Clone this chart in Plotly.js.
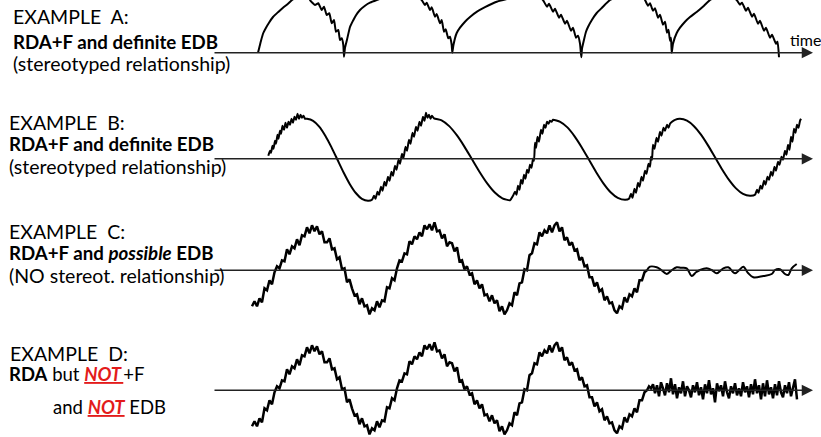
<!DOCTYPE html>
<html><head><meta charset="utf-8">
<script src="https://cdn.plot.ly/plotly-3.0.1.min.js"></script>
<style>html,body{margin:0;padding:0;background:#fff}#chart{width:821px;height:437px}</style>
</head><body><div id="chart"></div>
<script>
// ---------- data (time in px-like units, amplitude above each baseline) ----------
// Example A: rising phase then stepwise (fast activity) descending phase
const aTime = [258,259.5,261,263.3,266,269,273,278,283,288,292,297,302,305,307.5,309,310,315,318.3,321.7,324,326.7,329.3,331.7,334,336,338.3,340,341.7,343.3,344,
345,347,350,353,356,360,365,370,376.7,385,395,405,412,416,419,421.7,425,426.7,430,431.7,435,436.7,440,441.7,444,445.7,448.3,450,451.7,452.3,
453.5,456.7,460,465,470,477,485,496.7,503,512,522,532,537,540,543,547,549,553,555,559,561,565,567,571,573,576,578,580,581.3,
582,584,586,588,592,596.7,602,610,618,628,636,640,643,645,648,650,653,655,658,660,663,665,667,668.5,670,671,671.7,
673,676.7,680,685,690,697,704,710,716,724,729,733,736.7,740,742,746,748,752,754,758,760,764,766,770,772,776,777.5,779];
const aAmp = [0,6,12,19.7,25,30,35.7,40.5,45,49,52.7,56,58,61,57,59,52.7,47.7,49.4,42.7,46,37.7,39.4,29.4,32.7,21,22.7,12.7,14.4,7.7,-4,
5,13,25.7,32,37.5,42.7,47,50,52.7,55.5,57.5,58.5,58,60,55,52.7,47.7,50,42.7,45.4,36,38.7,29.4,32.7,21,23.4,14.4,16,7.7,0,
8,19.7,25,31,35.7,41,45.5,51,52.7,55,57,58,60,55.5,52.7,46,49,41,44,35,38,29,32,22,25,15,17,9,-4.5,
4,13,21,25.7,33,39.7,45,52.7,56,58,58.5,60,55.5,52.7,47,49.5,42,44.5,35,38,28,31,20,23,12,15,0,
9,19.7,25,31,35.7,41,47,52.7,56,58,60,55.5,52.7,48,50,42,45,36,39,29,32,22,25,15,18,9,11,-4.5];

// Example B: noisy rising phases, smooth falling phases
const bTime = [268.3,270,271,272.5,273.5,275,276,277.5,278.5,280,281,282.5,284,285.5,287,288.5,290,291.5,293,294.5,296,297.5,299,300.5,302,303.5,305,
307,313.1,319.2,325.3,331.4,337.5,343.6,349.7,355.8,361.9,368,
372,374,375.5,377.5,379,381,382.5,384.5,386,388,389.5,391.5,393,395,396.5,398.5,400,402,403.5,405.5,407,409,410.5,412.5,414,416,417.5,419.5,421,423,424.5,426,427.5,429,430.5,432,
434,441.6,449.2,456.8,464.4,472,479.6,487.2,494.8,502.4,510,
513,515,516.5,518,519.5,521,522.5,524,525.5,527,528.5,530,531.5,533,534,535,536,537.5,539,541,542.5,544,545.5,547,548.5,550,551.5,
553,560.2,567.4,574.6,581.8,589,596.2,603.4,610.6,617.8,625,
629,631,632.5,634.5,636,638,639.5,641.5,643,645,646.5,648.5,650,651,652,653,654.5,656.5,658,660,661.5,663.5,665,667,668.5,670,672,675,
680,687,694,701,708,715,722,729,736,743,750,
755,757,758.5,760.5,762,764,765.5,767.5,769,771,772.5,774.5,776,778,779.5,781.5,783,785,786.5,788,789.5,791,792.5,794,795.5,797,798.5,800,801];
const bAmp = [3,8,6,13,10,18,15,24,20,28,25,33,29,36,31,37,34,40,36,42,39,45,40,44,41,43,40,
40,38,32.2,23.1,11.7,-1,-13.7,-25.1,-34.2,-40,-42,
-41,-37,-40,-33,-36,-28,-32,-23,-27,-18,-22,-13,-17,-7,-11,-1,-5,5,1,12,8,19,15,26,22,32,28,37,33,42,38,46,41,44,40,43,
40.5,38.5,32.7,23.6,12.2,-0.5,-13.2,-24.6,-33.7,-39.5,-41.5,
-37,-33,-36,-27,-31,-21,-25,-16,-20,-11,-14,-6,-9,0,-2,16,11,22,17,29,25,34,31,37,35,38,37,
39,37,31.4,22.5,11.4,-1,-13.4,-24.5,-33.4,-39,-41,
-40,-35,-39,-30,-34,-24,-28,-18,-22,-12,-15,-5,-8,2,-1,14,10,21,17,27,23,31,28,34,31,35,37,39,
40,38.1,32.6,24.1,13.4,1.5,-10.4,-21.1,-29.6,-35.1,-37,
-36,-31,-34,-27,-30,-22,-26,-18,-21,-13,-17,-8,-12,-3,-6,2,-1,8,4,14,9,22,17,30,26,34,31,38,40];

// Examples C and D share the same noisy rhythmic delta (RDA+F) section
const rdaStart = 252, rdaStep = 2.5;
const rdaAmp = [-36,-31,-36,-28,-32,-18,-20,-10,-14,-2,
4,2,10,9,21,16,24,22,31,25,
35,34,43,37,45,39,44,36,39,28,
28,32,21,22,11,13,1,2,-12,-9,
-18,-25,-24,-34,-28,-36,-35,-44,-38,-40,
-31,-37,-30,-31,-17,-18,-8,-10,2,10,
9,17,16,29,26,34,31,38,34,45,
41,46,40,48,39,40,32,36,24,28,
27,19,23,9,10,1,4,-4,-3,-14,
-10,-18,-14,-25,-24,-31,-25,-33,-30,-41,
-36,-44,-40,-33,-35,-22,-25,-13,-12,1,
0,15,17,27,26,38,34,40,37,45,
38,45,48,39,43,30,33,25,28,20,
21,10,13,4,5,-7,-7,-16,-12,-21,
-19,-30,-26,-33,-32,-40,-43,-36,-38,-27,
-32,-24,-26,-18,-22,-10,-10,-2,0];

// Example C tail: slow low-amplitude wiggle
const cTailTime = [647,650,656.7,661,666.7,671,676.7,681,686.7,691.7,696,700,706.7,711.7,716.7,723.3,728.3,735,740,743.3,748.3,753.3,763.3,771.7,775,780,785,788.3,791.7,796.7];
const cTailAmp = [0,3.6,3,0.5,-3.7,-0.5,3,2.5,2,-5.7,-2,0.3,2,0.3,-3,2,3,-3,1,3.6,-3,-7,-5.7,-3.7,0.3,1,-3.7,-4.7,2,6.3];

// Example D tail: fast low-amplitude activity
const dTailStart = 647, dTailStep = 2;
const dTailAmp = [0,4,2,6,-3,5,-6,8,2,-5,7,-2,12,-4,6,-8,3,-3,9,-6,4,0,-7,5,-2,8,-5,3,-9,6,
-3,10,-4,2,-12,7,-1,5,-6,9,-2,-8,4,-3,7,-5,2,-6,8,-2,4,-7,6,-4,11,-3,5,-9,7,-6,
10,-4,3,-8,6,-5,9,-2,-7,5,-3,8,-6,4,11,-9];

// Text
const exampleTitles = ['EXAMPLE\u00a0 A:', 'EXAMPLE\u00a0 B:', 'EXAMPLE\u00a0 C:', 'EXAMPLE\u00a0 D:'];
const RED = '#e31b1b';
const notTxt = (t) => `<span style="color:${RED}"><b><i><u>${t}</u></i></b></span>`;

// ---------- layout ----------
const W = 821, H = 437;
const base = [52.7, 158.8, 270.3, 390.3];   // baseline pixel rows
const yax = ['y', 'y2', 'y3', 'y4'];
const noisyStyle = {color: '#000', width: 2.5};

const traces = [
  {x: aTime, y: aAmp, yaxis: 'y', mode: 'lines', line: {color:'#000', width:2, shape:'spline', smoothing:0.5}},
  {x: bTime, y: bAmp, yaxis: 'y2', mode: 'lines', line: {color:'#000', width:2, shape:'spline', smoothing:0.5}},
  {x0: rdaStart, dx: rdaStep, y: rdaAmp, yaxis: 'y3', mode: 'lines', line: noisyStyle},
  {x: cTailTime, y: cTailAmp, yaxis: 'y3', mode: 'lines', line: {color:'#000', width:2, shape:'spline', smoothing:1}},
  {x0: rdaStart, dx: rdaStep, y: rdaAmp, yaxis: 'y4', mode: 'lines', line: noisyStyle},
  {x0: dTailStart, dx: dTailStep, y: dTailAmp, yaxis: 'y4', mode: 'lines', line: noisyStyle}
];

const ann = [];
// baselines with arrowheads
yax.forEach((ya) => {
  ann.push({xref:'x', yref:ya, axref:'x', ayref:ya, x:813, y:0, ax:213, ay:0, text:'',
    showarrow:true, arrowhead:2, arrowsize:1.5, arrowwidth:1.5, arrowcolor:'#222', standoff:0, startstandoff:0});
});
const font = {family:'Lato, sans-serif', size:19.5, color:'#000'};
const boldFont = {family:'Lato, sans-serif', size:18.7, color:'#000'};
const T = (txt, px, py, extra) => Object.assign({xref:'paper', yref:'paper', x:px/W, y:1-py/H,
  xanchor:'left', yanchor:'middle', showarrow:false, text:txt, font:font}, extra||{});

ann.push(T(exampleTitles[0], 11, 16.3));
ann.push(T('<b>RDA+F and definite EDB</b>', 11, 42, {font: boldFont}));
ann.push(T('(stereotyped relationship)', 11, 64));
ann.push(T(exampleTitles[1], 7, 122.5));
ann.push(T('<b>RDA+F and definite EDB</b>', 7, 144, {font: boldFont}));
ann.push(T('(stereotyped relationship)', 7, 166));
ann.push(T(exampleTitles[2], 7, 232));
ann.push(T('<b>RDA+F and <i>possible</i> EDB</b>', 7, 253.5, {font: boldFont}));
ann.push(T('(NO stereot. relationship)', 7, 275));
ann.push(T(exampleTitles[3], 8, 353.3));
ann.push(T('<b>RDA</b> but ' + notTxt('NOT\u2009') + '+F', 7, 374, {font: {family:'Lato, sans-serif', size:18.5, color:'#000'}}));
ann.push(T('and ' + notTxt('NOT') + ' EDB', 50.7, 407, {font: {family:'Lato, sans-serif', size:18.5, color:'#000'}}));
ann.push(T('time', 805, 39, {xanchor:'center', font:{family:'Lato, sans-serif', size:16, color:'#000'}}));

const layout = {
  width: W, height: H, margin: {l:0, r:0, t:0, b:0},
  paper_bgcolor: '#fff', plot_bgcolor: '#fff', showlegend: false,
  xaxis: {range: [0, W], visible: false, fixedrange: true},
  annotations: ann
};
yax.forEach((ya, i) => {
  const key = i === 0 ? 'yaxis' : 'yaxis' + (i + 1);
  layout[key] = {range: [base[i] - H, base[i]], visible: false, fixedrange: true};
  if (i > 0) layout[key].overlaying = 'y';
});

Plotly.newPlot('chart', traces, layout, {staticPlot: true, displayModeBar: false});
</script>
</body></html>
